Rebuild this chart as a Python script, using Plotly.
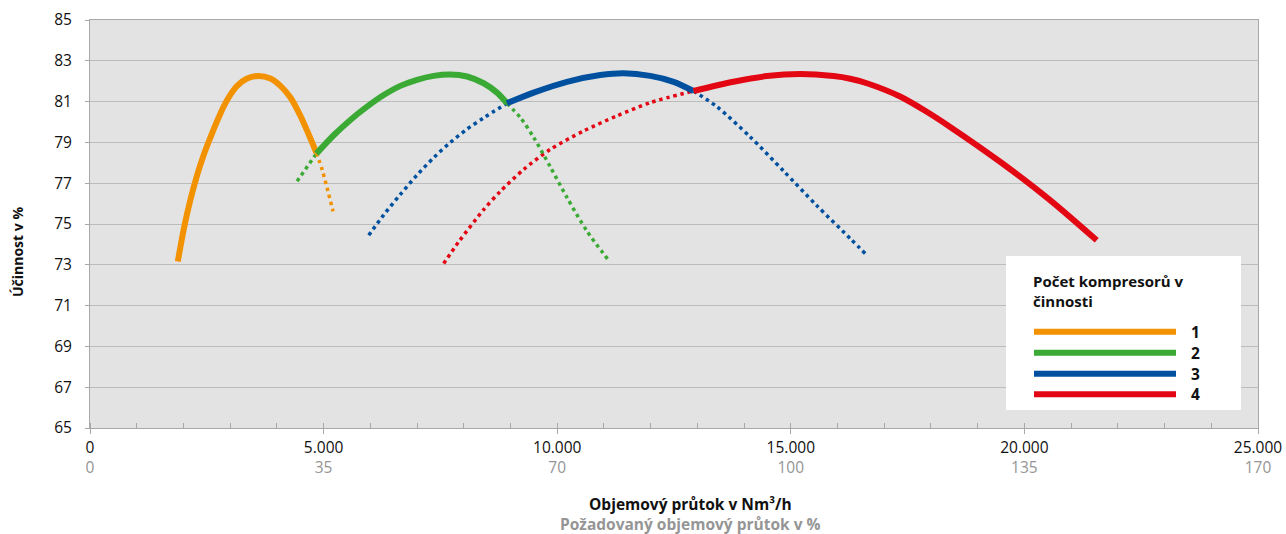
import plotly.graph_objects as go

# ---------------- data ----------------
x_ticks = [0, 5000, 10000, 15000, 20000, 25000]
x_tick_labels = ["0", "5.000", "10.000", "15.000", "20.000", "25.000"]
pct_labels = ["0", "35", "70", "100", "135", "170"]
y_ticks = [65, 67, 69, 71, 73, 75, 77, 79, 81, 83, 85]

series_names = ["1", "2", "3", "4"]
colors = ["#f39200", "#3aaa35", "#0050a0", "#e30613"]

# 1 compressor
c1_solid_x = [1879, 2007, 2150, 2293, 2435, 2578, 2721, 2863, 3006, 3149, 3363, 3612, 3862, 4076, 4290, 4504, 4682, 4846]
c1_solid_y = [73.16, 74.75, 76.2, 77.4, 78.4, 79.25, 80.05, 80.77, 81.34, 81.77, 82.13, 82.26, 82.13, 81.77, 81.2, 80.3, 79.39, 78.49]
c1_dot_after_x = [4846, 4968, 5075, 5203]
c1_dot_after_y = [78.49, 77.67, 76.77, 75.62]

# 2 compressors
c2_dot_before_x = [4433, 4846]
c2_dot_before_y = [77.1, 78.45]
c2_solid_x = [4846, 5216, 5573, 5930, 6287, 6643, 7000, 7356, 7713, 8070, 8426, 8712, 8926]
c2_solid_y = [78.45, 79.35, 80.1, 80.75, 81.32, 81.77, 82.07, 82.26, 82.33, 82.23, 81.9, 81.44, 80.92]
c2_dot_after_x = [8926, 9217, 9495, 9852, 10209, 10637, 11100]
c2_dot_after_y = [80.92, 80.2, 79.25, 77.8, 76.3, 74.65, 73.22]

# 3 compressors
c3_dot_before_x = [5966, 6287, 6643, 7000, 7356, 7713, 8070, 8426, 8926]
c3_dot_before_y = [74.45, 75.45, 76.45, 77.4, 78.25, 79.0, 79.65, 80.2, 80.92]
c3_solid_x = [8926, 9495, 10209, 10922, 11421, 11992, 12491, 12918]
c3_solid_y = [80.92, 81.44, 81.97, 82.3, 82.39, 82.26, 81.97, 81.52]
c3_dot_after_x = [12918, 13418, 14131, 14844, 15557, 16271, 16628]
c3_dot_after_y = [81.52, 80.75, 79.27, 77.6, 75.9, 74.29, 73.47]

# 4 compressors
c4_dot_before_x = [7570, 7890, 8426, 8783, 9281, 9852, 10565, 11278, 11992, 12918]
c4_dot_before_y = [73.06, 74.12, 75.7, 76.6, 77.67, 78.66, 79.56, 80.3, 80.95, 81.52]
c4_solid_x = [12918, 13774, 14488, 15201, 15914, 16271, 16628, 17340, 17875, 18410, 19480, 20549, 21548]
c4_solid_y = [81.52, 81.97, 82.25, 82.35, 82.25, 82.12, 81.9, 81.25, 80.55, 79.76, 78.05, 76.17, 74.2]

legend_title_1 = "Počet kompresorů v"
legend_title_2 = "činnosti"

# ---------------- figure ----------------
fig = go.Figure()

def solid(x, y, c):
    fig.add_trace(go.Scatter(x=x, y=y, mode="lines",
                             line=dict(color=c, width=6, shape="spline", smoothing=0.8),
                             showlegend=False, hoverinfo="skip"))

def dotted(x, y, c):
    fig.add_trace(go.Scatter(x=x, y=y, mode="lines",
                             line=dict(color=c, width=3.5, dash="3.5px,3.8px", shape="spline", smoothing=0.8),
                             showlegend=False, hoverinfo="skip"))

dotted(c4_dot_before_x, c4_dot_before_y, colors[3])
dotted(c3_dot_before_x, c3_dot_before_y, colors[2])
dotted(c3_dot_after_x, c3_dot_after_y, colors[2])
dotted(c2_dot_before_x, c2_dot_before_y, colors[1])
dotted(c2_dot_after_x, c2_dot_after_y, colors[1])
dotted(c1_dot_after_x, c1_dot_after_y, colors[0])
solid(c1_solid_x, c1_solid_y, colors[0])
solid(c2_solid_x, c2_solid_y, colors[1])
solid(c3_solid_x, c3_solid_y, colors[2])
solid(c4_solid_x, c4_solid_y, colors[3])

tick_text = [f"{a}<br><span style='color:#959595'>{b}</span>" for a, b in zip(x_tick_labels, pct_labels)]

axis_col = "#a8a8a8"
fig.update_xaxes(range=[0, 25000], tickvals=x_ticks, ticktext=tick_text, showgrid=False, zeroline=False,
                 showline=True, linecolor=axis_col, linewidth=1, mirror=True,
                 ticks="outside", ticklen=5, tickcolor=axis_col,
                 minor=dict(ticks="inside", dtick=1000, tick0=0, ticklen=5, tickcolor=axis_col, showgrid=False),
                 tickfont=dict(size=15.5, color="#111111"), automargin=False)
fig.update_yaxes(range=[65, 85], tickvals=y_ticks, showgrid=True, gridcolor="#bcbcbc", gridwidth=1,
                 zeroline=False, showline=True, linecolor=axis_col, linewidth=1, mirror=True,
                 ticks="outside", ticklen=4, tickcolor=axis_col, ticklabelstandoff=10,
                 tickfont=dict(size=15.5, color="#111111"), automargin=False)

L, R, T, B = 90, 28, 20, 106
W, H = 1286, 534
pw, ph = W - L - R, H - T - B

def px(x):
    return (x - L) / pw

def py(y):
    return (H - B - y) / ph

shapes = [dict(type="rect", xref="paper", yref="paper", x0=px(1006), x1=px(1241), y0=py(410), y1=py(256),
               fillcolor="white", line=dict(width=0), layer="above")]
annotations = []
leg_y = [331.7, 352.7, 373.7, 394.3]
for name, c, yy in zip(series_names, colors, leg_y):
    shapes.append(dict(type="line", xref="paper", yref="paper", x0=px(1034), x1=px(1176), y0=py(yy), y1=py(yy),
                       line=dict(color=c, width=6), layer="above"))
    annotations.append(dict(xref="paper", yref="paper", x=px(1189), y=py(yy), text=f"<b>{name}</b>",
                            showarrow=False, xanchor="left", yanchor="middle",
                            font=dict(size=15.5, color="#111111")))
annotations.append(dict(xref="paper", yref="paper", x=px(1031), y=py(281), text=f"<b>{legend_title_1}</b>",
                        showarrow=False, xanchor="left", yanchor="middle", font=dict(size=15, color="#111111")))
annotations.append(dict(xref="paper", yref="paper", x=px(1031), y=py(301), text=f"<b>{legend_title_2}</b>",
                        showarrow=False, xanchor="left", yanchor="middle", font=dict(size=15, color="#111111")))
annotations.append(dict(xref="paper", yref="paper", x=px(690), y=py(504),
                        text="<b>Objemový průtok v Nm³/h</b>", showarrow=False, xanchor="center", yanchor="middle",
                        font=dict(size=15.5, color="#111111")))
annotations.append(dict(xref="paper", yref="paper", x=px(690), y=py(524),
                        text="<b>Požadovaný objemový průtok v %</b>", showarrow=False, xanchor="center",
                        yanchor="middle", font=dict(size=15.5, color="#959595")))
annotations.append(dict(xref="paper", yref="paper", x=px(17), y=py(252), text="<b>Účinnost v %</b>",
                        textangle=-90, showarrow=False, xanchor="center", yanchor="middle",
                        font=dict(size=14, color="#111111")))

fig.update_layout(width=W, height=H, margin=dict(l=L, r=R, t=T, b=B), plot_bgcolor="#e3e3e3",
                  paper_bgcolor="white", font=dict(family="Open Sans, Noto Sans, sans-serif"),
                  shapes=shapes, annotations=annotations, showlegend=False)

fig.write_html("out.html", config={"displayModeBar": False},
               post_script="document.body.style.margin='0';document.body.style.overflow='hidden';")
